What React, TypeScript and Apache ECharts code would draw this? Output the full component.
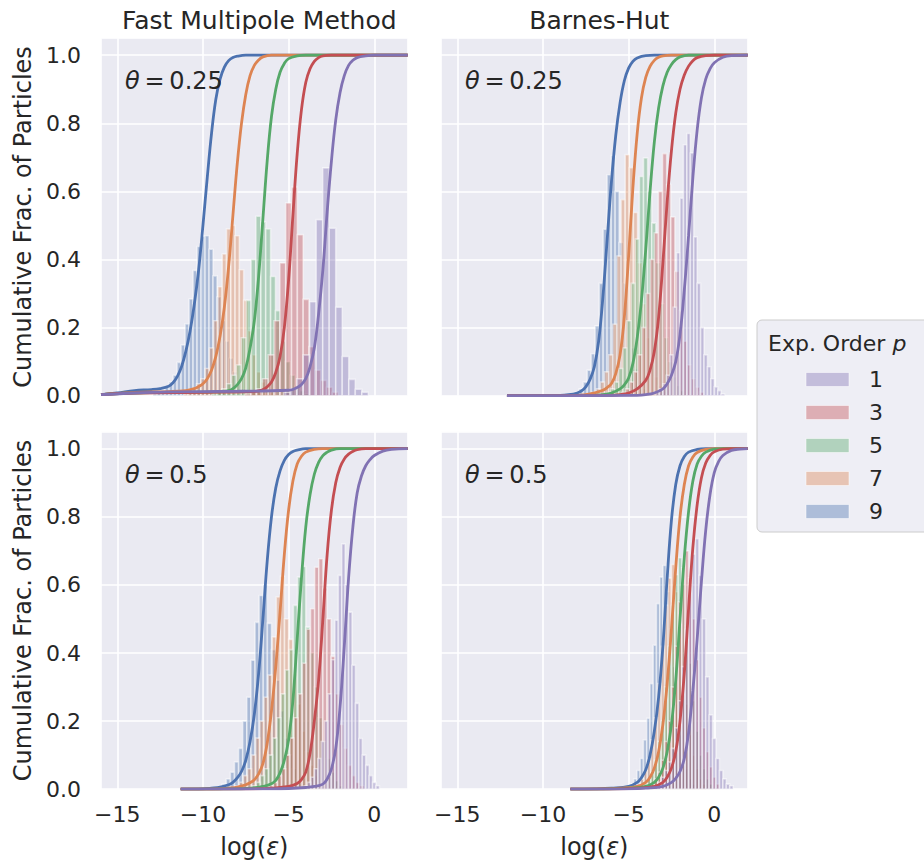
import React, { useEffect, useRef } from 'react';
import * as echarts from 'echarts';

// ---------- labels ----------
const orders = ['1', '3', '5', '7', '9'];
const panelTitles = ['Fast Multipole Method', 'Barnes-Hut'];
const thetaLabels = ['0.25', '0.25', '0.5', '0.5'];
const legendTitle = 'Exp. Order ';
const yAxisTitle = 'Cumulative Frac. of Particles';
const xAxisTitle = 'log({i|ε})';
const xRange = [-15.95, 1.95];
const yRange = [0, 1.05];

// ---------- histograms [bin centre, density] ----------
// FMM, theta = 0.25
const histFmm25_p1 = [[-5.1,0.01],[-4.72,0.02],[-4.34,0.05],[-3.96,0.12],[-3.58,0.276],[-3.2,0.517],[-2.82,0.669],[-2.44,0.492],[-2.06,0.26],[-1.68,0.115],[-1.3,0.048],[-0.92,0.019],[-0.54,0.01]];
const histFmm25_p3 = [[-7.38,0.005],[-7.04,0.01],[-6.7,0.02],[-6.36,0.05],[-6.02,0.12],[-5.68,0.22],[-5.34,0.39],[-5.0,0.566],[-4.66,0.612],[-4.32,0.473],[-3.98,0.283],[-3.64,0.144],[-3.3,0.075],[-2.96,0.045],[-2.62,0.025],[-2.28,0.01]];
const histFmm25_p5 = [[-9.33,0.005],[-9.045,0.01],[-8.76,0.02],[-8.475,0.035],[-8.19,0.06],[-7.905,0.09],[-7.62,0.17],[-7.335,0.28],[-7.05,0.4],[-6.765,0.527],[-6.48,0.51],[-6.195,0.49],[-5.91,0.35],[-5.625,0.25],[-5.34,0.16],[-5.055,0.1],[-4.77,0.06],[-4.485,0.03],[-4.2,0.015],[-3.915,0.005]];
const histFmm25_p7 = [[-11,0.005],[-10.75,0.01],[-10.5,0.02],[-10.25,0.035],[-10,0.05],[-9.75,0.08],[-9.5,0.14],[-9.25,0.22],[-9,0.32],[-8.75,0.416],[-8.5,0.49],[-8.25,0.5],[-8,0.47],[-7.75,0.37],[-7.5,0.28],[-7.25,0.19],[-7,0.12],[-6.75,0.07],[-6.5,0.04],[-6.25,0.02],[-6,0.01]];
const histFmm25_p9 = [[-12.79,0.005],[-12.557,0.01],[-12.324,0.015],[-12.091,0.025],[-11.858,0.04],[-11.625,0.06],[-11.392,0.098],[-11.159,0.149],[-10.926,0.211],[-10.693,0.284],[-10.46,0.368],[-10.227,0.438],[-9.994,0.468],[-9.761,0.47],[-9.528,0.43],[-9.295,0.352],[-9.062,0.29],[-8.829,0.22],[-8.596,0.16],[-8.363,0.11],[-8.13,0.07],[-7.897,0.04],[-7.664,0.02],[-7.431,0.01],[-7.198,0.005]];
// Barnes-Hut, theta = 0.25
const histBh25_p1 = [[-3.3,0.01],[-3.1,0.02],[-2.9,0.035],[-2.7,0.06],[-2.5,0.12],[-2.3,0.26],[-2.1,0.42],[-1.9,0.58],[-1.7,0.737],[-1.5,0.77],[-1.3,0.713],[-1.1,0.466],[-0.9,0.33],[-0.7,0.2],[-0.5,0.12],[-0.3,0.085],[-0.1,0.05],[0.1,0.026],[0.3,0.015],[0.5,0.005]];
const histBh25_p3 = [[-5.3,0.01],[-5.06,0.02],[-4.82,0.04],[-4.58,0.07],[-4.34,0.12],[-4.1,0.2],[-3.86,0.3],[-3.62,0.4],[-3.38,0.478],[-3.14,0.6],[-2.9,0.711],[-2.66,0.62],[-2.42,0.525],[-2.18,0.365],[-1.94,0.25],[-1.7,0.16],[-1.46,0.09],[-1.22,0.05],[-0.98,0.025],[-0.74,0.01]];
const histBh25_p5 = [[-6.17,0.01],[-5.93,0.02],[-5.69,0.04],[-5.45,0.08],[-5.21,0.14],[-4.97,0.22],[-4.73,0.33],[-4.49,0.46],[-4.25,0.644],[-4.01,0.698],[-3.77,0.6],[-3.53,0.507],[-3.29,0.39],[-3.05,0.27],[-2.81,0.17],[-2.57,0.1],[-2.33,0.055],[-2.09,0.03],[-1.85,0.015]];
const histBh25_p7 = [[-7.0,0.01],[-6.76,0.02],[-6.52,0.04],[-6.28,0.07],[-6.04,0.12],[-5.8,0.21],[-5.56,0.41],[-5.32,0.576],[-5.08,0.708],[-4.84,0.67],[-4.6,0.538],[-4.36,0.39],[-4.12,0.27],[-3.88,0.17],[-3.64,0.1],[-3.4,0.055],[-3.16,0.03],[-2.92,0.015],[-2.68,0.005]];
const histBh25_p9 = [[-8.0,0.01],[-7.77,0.02],[-7.53,0.04],[-7.3,0.075],[-7.07,0.123],[-6.84,0.205],[-6.6,0.33],[-6.37,0.489],[-6.14,0.649],[-5.9,0.705],[-5.67,0.6],[-5.44,0.45],[-5.2,0.33],[-4.97,0.22],[-4.74,0.14],[-4.51,0.08],[-4.27,0.045],[-4.04,0.02],[-3.81,0.01]];
// FMM, theta = 0.5
const histFmm50_p1 = [[-4.0,0.01],[-3.8,0.02],[-3.6,0.035],[-3.4,0.06],[-3.2,0.09],[-3.0,0.14],[-2.8,0.2],[-2.6,0.28],[-2.4,0.38],[-2.2,0.496],[-2.0,0.628],[-1.8,0.72],[-1.6,0.6],[-1.4,0.52],[-1.2,0.364],[-1.0,0.252],[-0.8,0.149],[-0.6,0.1],[-0.4,0.07],[-0.2,0.04],[0.0,0.02],[0.2,0.01]];
const histFmm50_p3 = [[-6.0,0.01],[-5.76,0.02],[-5.52,0.04],[-5.28,0.06],[-5.04,0.1],[-4.8,0.15],[-4.56,0.21],[-4.32,0.28],[-4.08,0.37],[-3.84,0.47],[-3.6,0.53],[-3.36,0.652],[-3.12,0.677],[-2.88,0.59],[-2.64,0.5],[-2.4,0.39],[-2.16,0.28],[-1.92,0.19],[-1.68,0.12],[-1.44,0.07],[-1.2,0.04],[-0.96,0.02],[-0.72,0.01]];
const histFmm50_p5 = [[-7.0,0.01],[-6.76,0.02],[-6.52,0.04],[-6.28,0.06],[-6.04,0.1],[-5.8,0.15],[-5.56,0.21],[-5.32,0.28],[-5.08,0.35],[-4.84,0.41],[-4.6,0.54],[-4.36,0.623],[-4.12,0.654],[-3.88,0.476],[-3.64,0.4],[-3.4,0.3],[-3.16,0.21],[-2.92,0.14],[-2.68,0.09],[-2.44,0.05],[-2.2,0.025],[-1.96,0.01]];
const histFmm50_p7 = [[-8.0,0.01],[-7.76,0.02],[-7.52,0.04],[-7.28,0.06],[-7.04,0.1],[-6.8,0.15],[-6.56,0.2],[-6.32,0.27],[-6.08,0.335],[-5.84,0.447],[-5.6,0.565],[-5.36,0.625],[-5.12,0.5],[-4.88,0.44],[-4.64,0.34],[-4.4,0.25],[-4.16,0.17],[-3.92,0.11],[-3.68,0.07],[-3.44,0.04],[-3.2,0.02],[-2.96,0.01]];
const histFmm50_p9 = [[-9.0,0.005],[-8.76,0.015],[-8.52,0.03],[-8.28,0.05],[-8.04,0.08],[-7.8,0.12],[-7.56,0.2],[-7.32,0.27],[-7.08,0.379],[-6.84,0.49],[-6.6,0.569],[-6.36,0.599],[-6.12,0.487],[-5.88,0.41],[-5.64,0.32],[-5.4,0.23],[-5.16,0.15],[-4.92,0.1],[-4.68,0.06],[-4.44,0.03],[-4.2,0.015],[-3.96,0.005]];
// Barnes-Hut, theta = 0.5
const histBh50_p1 = [[-3.4,0.01],[-3.2,0.02],[-3.0,0.035],[-2.8,0.055],[-2.6,0.08],[-2.4,0.12],[-2.2,0.18],[-2.0,0.26],[-1.8,0.36],[-1.6,0.47],[-1.4,0.6],[-1.2,0.69],[-1.0,0.736],[-0.8,0.628],[-0.6,0.5],[-0.4,0.33],[-0.2,0.218],[0.0,0.149],[0.2,0.09],[0.4,0.055],[0.6,0.03],[0.8,0.015],[1.0,0.01]];
const histBh50_p3 = [[-3.6,0.015],[-3.4,0.03],[-3.2,0.05],[-3.0,0.085],[-2.8,0.14],[-2.6,0.2],[-2.4,0.3],[-2.2,0.42],[-2.0,0.55],[-1.8,0.65],[-1.6,0.7],[-1.4,0.62],[-1.2,0.5],[-1.0,0.38],[-0.8,0.27],[-0.6,0.18],[-0.4,0.11],[-0.2,0.065],[0.0,0.035],[0.2,0.015]];
const histBh50_p5 = [[-4.0,0.015],[-3.8,0.03],[-3.6,0.05],[-3.4,0.085],[-3.2,0.14],[-3.0,0.2],[-2.8,0.3],[-2.6,0.42],[-2.4,0.54],[-2.2,0.63],[-2.0,0.68],[-1.8,0.6],[-1.6,0.48],[-1.4,0.37],[-1.2,0.26],[-1.0,0.17],[-0.8,0.1],[-0.6,0.06],[-0.4,0.03],[-0.2,0.015]];
const histBh50_p7 = [[-4.4,0.015],[-4.2,0.03],[-4.0,0.055],[-3.8,0.09],[-3.6,0.145],[-3.4,0.21],[-3.2,0.31],[-3.0,0.42],[-2.8,0.54],[-2.6,0.62],[-2.4,0.66],[-2.2,0.58],[-2.0,0.47],[-1.8,0.36],[-1.6,0.25],[-1.4,0.16],[-1.2,0.1],[-1.0,0.06],[-0.8,0.03],[-0.6,0.015]];
const histBh50_p9 = [[-4.8,0.015],[-4.61,0.03],[-4.42,0.055],[-4.23,0.09],[-4.04,0.145],[-3.85,0.208],[-3.66,0.31],[-3.47,0.423],[-3.28,0.545],[-3.09,0.623],[-2.9,0.657],[-2.71,0.58],[-2.52,0.47],[-2.33,0.36],[-2.14,0.25],[-1.95,0.16],[-1.76,0.1],[-1.57,0.06],[-1.38,0.03],[-1.19,0.015]];

// ---------- cumulative curves [log(eps), fraction] ----------
const cdfFmm25_p1 = [[-15.95,0.003],[-14,0.008],[-12,0.011],[-8,0.013],[-5,0.016],[-4.5,0.024],[-4.25,0.033],[-4,0.05],[-3.75,0.085],[-3.5,0.14],[-3.25,0.24],[-3,0.37],[-2.75,0.54],[-2.5,0.69],[-2.25,0.81],[-2,0.89],[-1.75,0.94],[-1.5,0.97],[-1.25,0.985],[-1,0.993],[-0.5,0.998],[0,1],[1.95,1]];
const cdfFmm25_p3 = [[-15.95,0.003],[-14,0.008],[-10,0.01],[-7,0.012],[-6.5,0.018],[-6.25,0.026],[-6,0.04],[-5.75,0.068],[-5.5,0.115],[-5.25,0.2],[-5,0.34],[-4.75,0.53],[-4.5,0.71],[-4.25,0.84],[-4,0.92],[-3.75,0.96],[-3.5,0.982],[-3.25,0.993],[-3,0.998],[-2.5,1],[1.95,1]];
const cdfFmm25_p5 = [[-15.95,0.003],[-14,0.008],[-11,0.01],[-9,0.011],[-8.5,0.015],[-8.25,0.021],[-8,0.032],[-7.75,0.05],[-7.5,0.082],[-7.25,0.14],[-7,0.22],[-6.75,0.35],[-6.5,0.52],[-6.25,0.69],[-6,0.82],[-5.75,0.9],[-5.5,0.95],[-5.25,0.976],[-5,0.99],[-4.5,0.998],[-4,1],[1.95,1]];
const cdfFmm25_p7 = [[-15.95,0.003],[-14,0.01],[-12,0.012],[-11,0.015],[-10.5,0.021],[-10.25,0.027],[-10,0.035],[-9.75,0.05],[-9.5,0.075],[-9.25,0.115],[-9,0.175],[-8.75,0.26],[-8.5,0.38],[-8.25,0.53],[-8,0.68],[-7.75,0.8],[-7.5,0.885],[-7.25,0.94],[-7,0.97],[-6.75,0.986],[-6.5,0.995],[-6,1],[1.95,1]];
const cdfFmm25_p9 = [[-15.95,0.003],[-15,0.008],[-14,0.015],[-13,0.018],[-12.5,0.021],[-12,0.028],[-11.75,0.038],[-11.5,0.056],[-11.25,0.085],[-11,0.13],[-10.75,0.19],[-10.5,0.27],[-10.25,0.37],[-10,0.5],[-9.75,0.64],[-9.5,0.77],[-9.25,0.87],[-9,0.93],[-8.75,0.965],[-8.5,0.984],[-8.25,0.993],[-8,0.997],[-7.5,1],[1.95,1]];

const cdfBh25_p1 = [[-12.1,0],[-4.5,0.001],[-4,0.003],[-3.5,0.008],[-3,0.02],[-2.75,0.035],[-2.5,0.06],[-2.25,0.1],[-2,0.18],[-1.75,0.31],[-1.5,0.47],[-1.25,0.64],[-1,0.78],[-0.75,0.875],[-0.5,0.93],[-0.25,0.96],[0,0.978],[0.5,0.994],[1,0.999],[1.95,1]];
const cdfBh25_p3 = [[-12.1,0],[-6,0.001],[-5.5,0.003],[-5,0.008],[-4.5,0.02],[-4,0.045],[-3.75,0.075],[-3.5,0.13],[-3.25,0.23],[-3,0.39],[-2.75,0.57],[-2.5,0.72],[-2.25,0.83],[-2,0.9],[-1.75,0.942],[-1.5,0.968],[-1.25,0.984],[-1,0.993],[-0.5,0.999],[0,1],[1.95,1]];
const cdfBh25_p5 = [[-12.1,0],[-7,0.001],[-6.5,0.003],[-6,0.008],[-5.5,0.02],[-5.25,0.032],[-5,0.052],[-4.75,0.095],[-4.5,0.17],[-4.25,0.28],[-4,0.43],[-3.75,0.6],[-3.5,0.745],[-3.25,0.845],[-3,0.91],[-2.75,0.95],[-2.5,0.973],[-2.25,0.987],[-2,0.995],[-1.5,1],[1.95,1]];
const cdfBh25_p7 = [[-12.1,0],[-8,0.001],[-7.5,0.003],[-7,0.008],[-6.5,0.016],[-6.25,0.024],[-6,0.036],[-5.75,0.065],[-5.5,0.12],[-5.25,0.23],[-5,0.41],[-4.75,0.61],[-4.5,0.77],[-4.25,0.875],[-4,0.935],[-3.75,0.967],[-3.5,0.985],[-3.25,0.994],[-3,0.998],[-2.5,1],[1.95,1]];
const cdfBh25_p9 = [[-12.1,0],[-9,0.001],[-8.5,0.003],[-8,0.008],[-7.75,0.014],[-7.5,0.026],[-7.25,0.048],[-7,0.085],[-6.75,0.16],[-6.5,0.29],[-6.25,0.46],[-6,0.63],[-5.75,0.765],[-5.5,0.86],[-5.25,0.925],[-5,0.962],[-4.75,0.982],[-4.5,0.992],[-4,0.999],[-3.5,1],[1.95,1]];

const cdfFmm50_p1 = [[-11.3,0],[-6,0.001],[-5,0.002],[-4,0.005],[-3.5,0.008],[-3,0.015],[-2.75,0.03],[-2.5,0.06],[-2.25,0.12],[-2,0.24],[-1.75,0.42],[-1.5,0.62],[-1.25,0.77],[-1,0.87],[-0.75,0.92],[-0.5,0.95],[-0.25,0.968],[0,0.98],[0.5,0.993],[1,0.998],[1.95,1]];
const cdfFmm50_p3 = [[-11.3,0],[-7,0.001],[-6,0.003],[-5,0.008],[-4.5,0.017],[-4.25,0.028],[-4,0.05],[-3.75,0.105],[-3.5,0.2],[-3.25,0.32],[-3,0.5],[-2.75,0.69],[-2.5,0.82],[-2.25,0.9],[-2,0.945],[-1.75,0.97],[-1.5,0.984],[-1.25,0.992],[-1,0.997],[-0.5,1],[1.95,1]];
const cdfFmm50_p5 = [[-11.3,0],[-8,0.001],[-7.5,0.002],[-7,0.004],[-6.5,0.008],[-6,0.016],[-5.75,0.026],[-5.5,0.048],[-5.25,0.085],[-5,0.145],[-4.75,0.26],[-4.5,0.44],[-4.25,0.62],[-4,0.77],[-3.75,0.865],[-3.5,0.925],[-3.25,0.96],[-3,0.98],[-2.75,0.99],[-2.5,0.996],[-2,1],[1.95,1]];
const cdfFmm50_p7 = [[-11.3,0],[-9,0.001],[-8.5,0.003],[-8,0.006],[-7.5,0.013],[-7.25,0.019],[-7,0.028],[-6.75,0.045],[-6.5,0.075],[-6.25,0.135],[-6,0.23],[-5.75,0.36],[-5.5,0.52],[-5.25,0.69],[-5,0.82],[-4.75,0.905],[-4.5,0.955],[-4.25,0.978],[-4,0.99],[-3.5,0.998],[-3,1],[1.95,1]];
const cdfFmm50_p9 = [[-11.3,0],[-10,0.001],[-9.5,0.003],[-9,0.006],[-8.5,0.013],[-8.25,0.02],[-8,0.033],[-7.75,0.052],[-7.5,0.085],[-7.25,0.14],[-7,0.22],[-6.75,0.34],[-6.5,0.5],[-6.25,0.67],[-6,0.8],[-5.75,0.885],[-5.5,0.935],[-5.25,0.966],[-5,0.983],[-4.75,0.992],[-4.5,0.996],[-4,1],[1.95,1]];

const cdfBh50_p1 = [[-8.4,0],[-5,0.001],[-4,0.003],[-3,0.008],[-2.5,0.02],[-2.25,0.032],[-2,0.052],[-1.75,0.09],[-1.5,0.165],[-1.25,0.29],[-1,0.44],[-0.75,0.61],[-0.5,0.76],[-0.25,0.865],[0,0.93],[0.25,0.962],[0.5,0.98],[1,0.995],[1.5,0.999],[1.95,1]];
const cdfBh50_p3 = [[-8.4,0],[-5.5,0.001],[-4.5,0.003],[-3.5,0.008],[-3,0.02],[-2.75,0.035],[-2.5,0.062],[-2.25,0.11],[-2,0.2],[-1.75,0.34],[-1.5,0.53],[-1.25,0.71],[-1,0.835],[-0.75,0.915],[-0.5,0.958],[-0.25,0.98],[0,0.991],[0.5,0.999],[1,1],[1.95,1]];
const cdfBh50_p5 = [[-8.4,0],[-6,0.001],[-5,0.003],[-4,0.008],[-3.5,0.02],[-3.25,0.035],[-3,0.062],[-2.75,0.11],[-2.5,0.19],[-2.25,0.32],[-2,0.5],[-1.75,0.68],[-1.5,0.815],[-1.25,0.905],[-1,0.955],[-0.75,0.978],[-0.5,0.99],[0,0.999],[0.5,1],[1.95,1]];
const cdfBh50_p7 = [[-8.4,0],[-6.5,0.001],[-5.5,0.003],[-4.5,0.008],[-4,0.02],[-3.75,0.035],[-3.5,0.062],[-3.25,0.11],[-3,0.19],[-2.75,0.31],[-2.5,0.47],[-2.25,0.65],[-2,0.8],[-1.75,0.895],[-1.5,0.95],[-1.25,0.976],[-1,0.989],[-0.5,0.998],[0,1],[1.95,1]];
const cdfBh50_p9 = [[-8.4,0],[-7,0.001],[-6,0.003],[-5,0.008],[-4.5,0.02],[-4.25,0.034],[-4,0.057],[-3.75,0.1],[-3.5,0.17],[-3.25,0.27],[-3,0.42],[-2.75,0.62],[-2.5,0.79],[-2.25,0.895],[-2,0.95],[-1.75,0.977],[-1.5,0.99],[-1,0.998],[-0.5,1],[1.95,1]];

// ---------- styles ----------
const FONT = 'DejaVu Sans';
const TEXT = '#262626';
const BG = '#EAEAF2';
const COLORS = ['#8172B3', '#C44E52', '#55A868', '#DD8452', '#4C72B0']; // p = 1,3,5,7,9
const GRIDS = [
  { left: 101, top: 38.2, width: 306.7, height: 357.5 },
  { left: 441, top: 38.2, width: 306.7, height: 357.5 },
  { left: 101, top: 431.7, width: 306.7, height: 357.5 },
  { left: 441, top: 431.7, width: 306.7, height: 357.5 },
];

const panels = [
  { hists: [histFmm25_p1, histFmm25_p3, histFmm25_p5, histFmm25_p7, histFmm25_p9], cdfs: [cdfFmm25_p1, cdfFmm25_p3, cdfFmm25_p5, cdfFmm25_p7, cdfFmm25_p9] },
  { hists: [histBh25_p1, histBh25_p3, histBh25_p5, histBh25_p7, histBh25_p9], cdfs: [cdfBh25_p1, cdfBh25_p3, cdfBh25_p5, cdfBh25_p7, cdfBh25_p9] },
  { hists: [histFmm50_p1, histFmm50_p3, histFmm50_p5, histFmm50_p7, histFmm50_p9], cdfs: [cdfFmm50_p1, cdfFmm50_p3, cdfFmm50_p5, cdfFmm50_p7, cdfFmm50_p9] },
  { hists: [histBh50_p1, histBh50_p3, histBh50_p5, histBh50_p7, histBh50_p9], cdfs: [cdfBh50_p1, cdfBh50_p3, cdfBh50_p5, cdfBh50_p7, cdfBh50_p9] },
];

function rgba(hex: string, a: number) {
  const n = parseInt(hex.slice(1), 16);
  return `rgba(${(n >> 16) & 255},${(n >> 8) & 255},${n & 255},${a})`;
}

function fmtX(v: number) {
  if (Math.abs(v / 5 - Math.round(v / 5)) > 1e-6) return '';
  return v < 0 ? '\u2212' + Math.abs(v) : String(v);
}
function fmtY(v: number) {
  if (Math.abs(v * 5 - Math.round(v * 5)) > 1e-6) return '';
  return v.toFixed(1);
}

function histSeries(data: number[][], color: string, g: number) {
  const w = (data[data.length - 1][0] - data[0][0]) / (data.length - 1);
  return {
    type: 'custom',
    xAxisIndex: g,
    yAxisIndex: g,
    clip: true,
    silent: true,
    z: 1,
    data,
    renderItem: (_p: any, api: any) => {
      const c = api.value(0);
      const h = api.value(1);
      const a = api.coord([c - w / 2, h]);
      const b = api.coord([c + w / 2, 0]);
      return {
        type: 'rect',
        shape: { x: a[0], y: a[1], width: b[0] - a[0], height: b[1] - a[1] },
        style: { fill: rgba(color, 0.4), stroke: 'rgba(255,255,255,0.5)', lineWidth: 1.6 },
      };
    },
  };
}

function lineSeries(data: number[][], color: string, g: number) {
  return {
    type: 'line',
    xAxisIndex: g,
    yAxisIndex: g,
    data,
    symbol: 'none',
    showSymbol: false,
    smooth: 0.4,
    silent: true,
    z: 3,
    lineStyle: { color, width: 2.8 },
  };
}

function buildOption() {
  const series: any[] = [];
  panels.forEach((p, g) => {
    for (let k = orders.length - 1; k >= 0; k--) series.push(histSeries(p.hists[k], COLORS[k], g));
  });
  panels.forEach((p, g) => {
    for (let k = orders.length - 1; k >= 0; k--) series.push(lineSeries(p.cdfs[k], COLORS[k], g));
  });

  const grid = GRIDS.map((r) => ({ ...r, show: true, backgroundColor: BG, borderWidth: 0, containLabel: false }));

  const xAxis = GRIDS.map((_, g) => ({
    type: 'value',
    gridIndex: g,
    min: xRange[0],
    max: xRange[1],
    splitNumber: 4,
    axisLine: { show: false },
    axisTick: { show: false },
    splitLine: { show: true, lineStyle: { color: '#ffffff', width: 1.6 } },
    axisLabel: { show: g >= 2, formatter: fmtX, fontSize: 22, color: TEXT, fontFamily: FONT, margin: 14 },
    name: g >= 2 ? xAxisTitle : '',
    nameLocation: 'middle',
    nameGap: 46,
    nameTextStyle: {
      fontSize: 24, color: TEXT, fontFamily: FONT,
      rich: { i: { fontStyle: 'italic', fontSize: 24, color: TEXT, fontFamily: FONT } },
    },
  }));

  const yAxis = GRIDS.map((_, g) => ({
    type: 'value',
    gridIndex: g,
    min: yRange[0],
    max: yRange[1],
    interval: 0.2,
    axisLine: { show: false },
    axisTick: { show: false },
    splitLine: { show: true, lineStyle: { color: '#ffffff', width: 1.6 } },
    axisLabel: { show: g % 2 === 0, formatter: fmtY, fontSize: 22, color: TEXT, fontFamily: FONT, margin: 20 },
    name: g % 2 === 0 ? yAxisTitle : '',
    nameLocation: 'middle',
    nameGap: 66,
    nameTextStyle: { fontSize: 24, color: TEXT, fontFamily: FONT },
  }));

  const title = panelTitles.map((t, i) => ({
    text: t,
    left: GRIDS[i].left + GRIDS[i].width / 2,
    top: 3,
    textAlign: 'center',
    textStyle: { fontSize: 25, fontWeight: 'normal', color: TEXT, fontFamily: FONT },
  }));

  const graphic: any[] = [];
  GRIDS.forEach((r, g) => {
    graphic.push({
      type: 'text',
      x: r.left + 24,
      y: r.top + 43,
      z: 10,
      style: {
        text: '{i|θ}\u2009=\u2009' + thetaLabels[g],
        fontSize: 24,
        fontFamily: FONT,
        fill: TEXT,
        verticalAlign: 'middle',
        rich: { i: { fontStyle: 'italic', fontSize: 24, fontFamily: FONT, fill: TEXT } },
      },
    });
  });

  // legend
  const lx = 757, ly = 320;
  graphic.push({
    type: 'rect',
    z: 10,
    shape: { x: lx, y: ly, width: 200, height: 212, r: 5 },
    style: { fill: 'rgba(234,234,242,0.8)', stroke: '#cccccc', lineWidth: 1 },
  });
  graphic.push({
    type: 'text',
    z: 11,
    x: lx + 11,
    y: ly + 23,
    style: {
      text: legendTitle + '{i|p}',
      fontSize: 22,
      fontFamily: FONT,
      fill: TEXT,
      verticalAlign: 'middle',
      rich: { i: { fontStyle: 'italic', fontSize: 22, fontFamily: FONT, fill: TEXT } },
    },
  });
  orders.forEach((o, k) => {
    const cy = ly + 59.5 + k * 33;
    graphic.push({
      type: 'rect',
      z: 11,
      shape: { x: lx + 49, y: cy - 7, width: 43, height: 14 },
      style: { fill: rgba(COLORS[k], 0.4), stroke: 'rgba(255,255,255,0.5)', lineWidth: 1 },
    });
    graphic.push({
      type: 'text',
      z: 11,
      x: lx + 112,
      y: cy,
      style: { text: o, fontSize: 22, fontFamily: FONT, fill: TEXT, verticalAlign: 'middle' },
    });
  });

  return {
    animation: false,
    backgroundColor: '#ffffff',
    textStyle: { fontFamily: FONT },
    title,
    grid,
    xAxis,
    yAxis,
    series,
    graphic,
  };
}

export default function App() {
  const ref = useRef<HTMLDivElement>(null);
  useEffect(() => {
    document.body.style.margin = '0';
    const chart = echarts.init(ref.current!, null, { renderer: 'svg' });
    chart.setOption(buildOption() as any);
    return () => chart.dispose();
  }, []);
  return <div ref={ref} style={{ position: 'absolute', left: 0, top: 0, width: 924, height: 864 }} />;
}
